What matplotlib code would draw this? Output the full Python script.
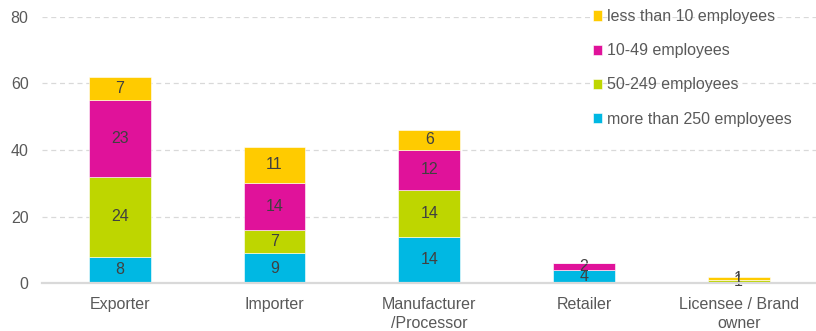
import numpy as np
import matplotlib.pyplot as plt

plt.rcParams["font.family"] = ["Liberation Sans", "DejaVu Sans"]

# 企业类型与各规模的数量
categories = ["Exporter", "Importer", "Manufacturer\n/Processor", "Retailer", "Licensee / Brand\nowner"]
more_250 = [8, 9, 14, 4, 0]
emp_50_249 = [24, 7, 14, 0, 1]
emp_10_49 = [23, 14, 12, 2, 0]
less_10 = [7, 11, 6, 0, 1]

series = [
    ("more than 250 employees", more_250, "#00B8E3"),
    ("50-249 employees", emp_50_249, "#BED600"),
    ("10-49 employees", emp_10_49, "#E0129A"),
    ("less than 10 employees", less_10, "#FFCB00"),
]

fs = 11.5

fig = plt.figure(figsize=(8.16, 3.31), dpi=100)
ax = fig.add_axes([0.052, 0.144, 0.948, 0.806])

x = np.arange(len(categories))
bottom = np.zeros(len(categories))
handles = []
for name, vals, color in series:
    vals = np.array(vals, dtype=float)
    bars = ax.bar(x, vals, width=0.4, bottom=bottom, color=color,
                  edgecolor="white", linewidth=0.4, label=name, zorder=3)
    handles.append(bars)
    labels = [f"{int(v)}" if v > 0 else "" for v in vals]
    ax.bar_label(bars, labels=labels, label_type="center",
                 fontsize=fs, color="#404040")
    bottom += vals

ax.set_xlim(-0.5, len(categories) - 0.5)
ax.set_ylim(0, 80)
ax.set_yticks([0, 20, 40, 60, 80])
ax.set_xticks(x)
ax.set_xticklabels(categories, fontsize=fs, color="#595959", linespacing=1.3)
ax.tick_params(axis="both", length=0, labelsize=fs, labelcolor="#595959")
ax.tick_params(axis="y", pad=10)
ax.tick_params(axis="x", pad=10)

# 网格线
for yv in [20, 40, 60, 80]:
    ax.axhline(yv, color="#D9D9D9", linewidth=0.9, linestyle=(0, (4, 3)), zorder=1)
ax.axhline(0, color="#D9D9D9", linewidth=1.6, zorder=4, clip_on=False)

for s in ax.spines.values():
    s.set_visible(False)

leg = ax.legend(handles=handles[::-1], loc="upper left",
                bbox_to_anchor=(0.703, 1.052), frameon=False, fontsize=fs,
                handlelength=0.6, handleheight=0.6, handletextpad=0.3,
                labelspacing=1.2, borderaxespad=0)
for t in leg.get_texts():
    t.set_color("#595959")

fig.savefig("out.png", dpi=100)
